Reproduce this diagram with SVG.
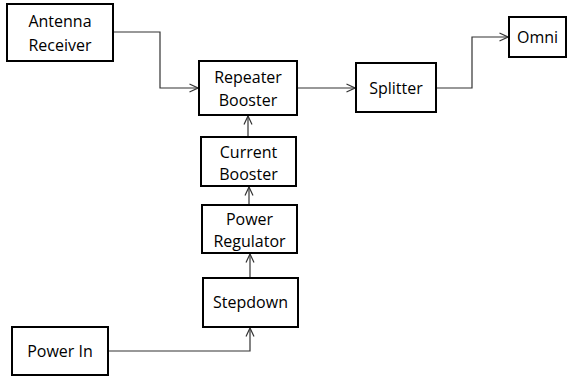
<svg xmlns="http://www.w3.org/2000/svg" width="568" height="380" viewBox="0 0 568 380">
  <style>
    .box { fill: #ffffff; stroke: #000000; stroke-width: 2; }
    .lbl { font-family: "Open Sans", "Noto Sans", sans-serif; font-size: 16px; fill: #000000; text-anchor: middle; }
    .wire { fill: none; stroke: #333333; stroke-width: 1.2; marker-end: url(#chev); }
  </style>
  <defs>
    <marker id="chev" viewBox="0 0 10 10" refX="9.5" refY="5" markerWidth="10" markerHeight="10" markerUnits="userSpaceOnUse" orient="auto">
      <path d="M1,1 L9.5,5 L1,9" fill="none" stroke="#333333" stroke-width="1.2"/>
    </marker>
  </defs>
  <rect width="568" height="380" fill="#ffffff"/>

  <g id="connectors">
    <path class="wire" d="M113,32 H160 V88 H198"/>
    <path class="wire" d="M297,88 H355"/>
    <path class="wire" d="M436,88 H472 V37 H508"/>
    <path class="wire" d="M248,137 V116"/>
    <path class="wire" d="M249,205 V187"/>
    <path class="wire" d="M250,278 V254"/>
    <path class="wire" d="M108,351 H250 V328"/>
  </g>

  <g id="antenna-receiver">
    <rect class="box" x="7" y="4" width="106" height="57"/>
    <text class="lbl" x="60" y="27">Antenna</text>
    <text class="lbl" x="60" y="51">Receiver</text>
  </g>
  <g id="repeater-booster">
    <rect class="box" x="199" y="61" width="98" height="54"/>
    <text class="lbl" x="248" y="83">Repeater</text>
    <text class="lbl" x="248" y="106">Booster</text>
  </g>
  <g id="splitter">
    <rect class="box" x="356" y="63" width="80" height="49"/>
    <text class="lbl" x="396" y="94">Splitter</text>
  </g>
  <g id="omni">
    <rect class="box" x="509" y="17" width="57" height="40"/>
    <text class="lbl" x="537.5" y="43">Omni</text>
  </g>
  <g id="current-booster">
    <rect class="box" x="201" y="137" width="95" height="49"/>
    <text class="lbl" x="248.5" y="158">Current</text>
    <text class="lbl" x="248.5" y="180">Booster</text>
  </g>
  <g id="power-regulator">
    <rect class="box" x="202" y="205" width="95" height="48"/>
    <text class="lbl" x="249.5" y="225">Power</text>
    <text class="lbl" x="249.5" y="247">Regulator</text>
  </g>
  <g id="stepdown">
    <rect class="box" x="203" y="278" width="95" height="49"/>
    <text class="lbl" x="250.5" y="308">Stepdown</text>
  </g>
  <g id="power-in">
    <rect class="box" x="12" y="327" width="96" height="48"/>
    <text class="lbl" x="60" y="357">Power In</text>
  </g>
</svg>
